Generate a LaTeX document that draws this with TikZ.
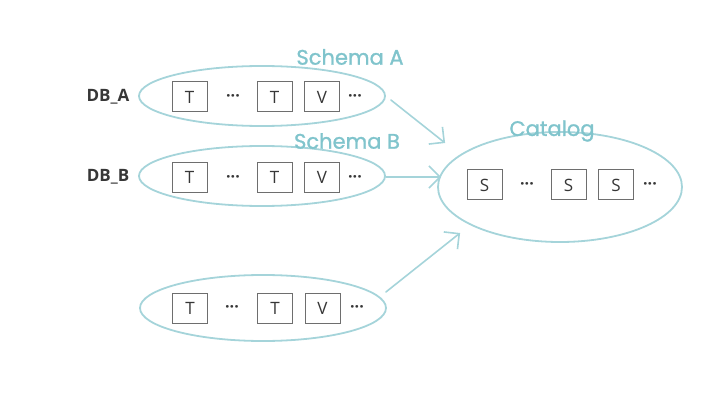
\documentclass[tikz,border=0pt]{standalone}
\usepackage{fontspec}
\setmainfont{Open Sans}
\newfontfamily\handfont[FakeBold=1.2]{Poppins}
\usetikzlibrary{shapes.geometric,arrows.meta,calc}
\definecolor{chalk}{RGB}{165,212,218}
\definecolor{chalktext}{RGB}{128,196,204}
\definecolor{boxgray}{RGB}{110,110,110}
\definecolor{inkgray}{RGB}{55,55,55}
\tikzset{
  sketch/.style={draw=chalk, line width=1.8pt, shape=ellipse, inner sep=0pt},
  sketchline/.style={draw=chalk, line width=1.6pt, line cap=round, -{Straight Barb[length=11pt,width=22pt,line width=1.6pt]}},
  tbox/.style={draw=boxgray, line width=1pt, fill=white, minimum width=35pt, minimum height=30pt, inner sep=0pt, text=inkgray, font=\fontsize{17}{17}\selectfont},
  dots/.style={text=inkgray, inner sep=0pt, yshift=-1.5pt, font=\fontsize{16}{16}\selectfont\bfseries},
  dblabel/.style={text=inkgray, font=\fontsize{17}{17}\selectfont\bfseries},
  hand/.style={text=chalktext, font=\handfont\fontsize{21}{21}\selectfont}
}
\begin{document}
\begin{tikzpicture}[x=1pt,y=1pt]
\useasboundingbox (0,0) rectangle (722,418);
% ellipses
\node[sketch, minimum width=246pt, minimum height=60pt] (ea) at (262,322) {};
\node[sketch, minimum width=246pt, minimum height=60pt] (eb) at (262,242) {};
\node[sketch, minimum width=246pt, minimum height=66pt] (ec) at (263,110) {};
\node[sketch, minimum width=244pt, minimum height=110pt] (cat) at (560,231) {};
% labels
\node[dblabel] (la) at (108,321) {DB\_A};
\node[dblabel] (lb) at (108,241) {DB\_B};
\node[hand] (sa) at (350,361) {Schema A};
\node[hand] (sb) at (347,277) {Schema B};
\node[hand] (sc) at (552,287) {Catalog};
% row A
\node[tbox] (a1) at (189.5,321) {T};
\node[dots] (ad1) at (233,321) {···};
\node[tbox] (a2) at (274.5,321) {T};
\node[tbox] (a3) at (322,321) {V};
\node[dots] (ad2) at (355,321) {···};
% row B
\node[tbox] (b1) at (189.5,240.5) {T};
\node[dots] (bd1) at (233,240.5) {···};
\node[tbox] (b2) at (274.5,240.5) {T};
\node[tbox] (b3) at (322,240.5) {V};
\node[dots] (bd2) at (355,240.5) {···};
% row C
\node[tbox] (c1) at (190,110) {T};
\node[dots] (cd1) at (232,110) {···};
\node[tbox] (c2) at (275,110) {T};
\node[tbox] (c3) at (322.5,110) {V};
\node[dots] (cd2) at (357,110) {···};
% catalog
\node[tbox] (s1) at (484.5,233) {S};
\node[dots] (sd1) at (527,233) {···};
\node[tbox] (s2) at (568.5,233) {S};
\node[tbox] (s3) at (616,233) {S};
\node[dots] (sd2) at (650,233) {···};
% arrows
\draw[sketchline] ($(ea.east)+(5,-4)$) -- ($(cat.west)+(8,44)$);
\draw[sketchline] ($(eb.east)+(0,-1)$) -- ($(cat.west)+(4,10)$);
\draw[sketchline] ($(ec.east)+(-1,16)$) -- ($(cat.west)+(23,-46)$);
\end{tikzpicture}
\end{document}
